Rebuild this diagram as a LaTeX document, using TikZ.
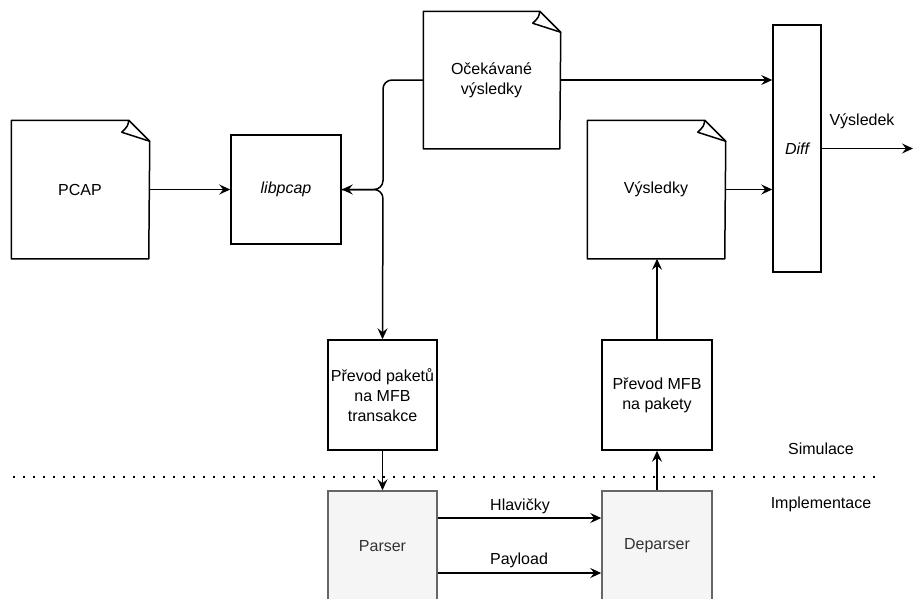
\documentclass[tikz,border=0pt]{standalone}
\usepackage{fontspec}
\setmainfont{Liberation Sans}
\usetikzlibrary{arrows.meta,calc}
\definecolor{implfill}{HTML}{F5F5F5}
\definecolor{impldraw}{HTML}{666666}
\definecolor{impltext}{HTML}{333333}
\newcommand{\notedraw}[1]{%
  \draw[line join=round] (#1.south west) -- (#1.north west) -- ($(#1.north east)+(-20,0)$) -- ($(#1.north east)+(1,21)$) -- (#1.south east) -- cycle;
  \draw[line join=round] ($(#1.north east)+(-20,0)$) .. controls ($(#1.north east)+(-21,6)$) .. ($(#1.north east)+(-27,12)$) -- ($(#1.north east)+(1,21)$);
}
\begin{document}
\begin{tikzpicture}[x=1pt,y=-1pt,
  font=\fontsize{16}{20}\selectfont, line width=1.5pt,
  box/.style={draw, inner sep=0pt, align=center, minimum width=110pt, minimum height=110pt},
  notebox/.style={inner sep=0pt, align=center, minimum width=136pt, minimum height=137pt},
  impl/.style={box, fill=implfill, draw=impldraw, text=impltext},
  arr/.style={-{Stealth[length=11pt,width=10pt,inset=4pt]}},
  lbl/.style={inner sep=0pt},
  sep/.style={line width=1.8pt, dash pattern=on 1.8pt off 8.2pt},
]
\useasboundingbox (0,0) rectangle (914,598);
\clip (0,0) rectangle (914,598);

% nodes
\node[notebox] (pcap) at (80,189.5) {PCAP};
\node[box, minimum height=109pt] (libpcap) at (286,189.5) {\itshape libpcap};
\node[notebox, minimum width=135pt, minimum height=136pt] (ocek) at (491.5,80) {Očekávané\\výsledky};
\node[notebox] (vysl) at (656,189.5) {Výsledky};
\node[draw, inner sep=0pt, minimum width=48pt, minimum height=247pt] (diff) at (797,148.5) {\itshape Diff};
\node[box, minimum width=109pt] (prevod1) at (382.5,395) {Převod paketů\\na MFB\\transakce};
\node[box] (prevod2) at (657,395) {Převod MFB\\na pakety};
\node[impl, minimum width=109pt] (parser) at (382.5,546) {Parser};
\node[impl] (deparser) at (657,546) {Deparser};
\coordinate (out) at (913,148.5);
\coordinate (sepL) at (13,477);
\coordinate (sepR) at (882,477);

\notedraw{pcap}
\notedraw{ocek}
\notedraw{vysl}

% labels
\node[lbl] (lvysledek) at (862,121) {Výsledek};
\node[lbl] (lhlav) at (520,506) {Hlavičky};
\node[lbl] (lpay) at (519,560) {Payload};
\node[lbl] (lsim) at (821,449) {Simulace};
\node[lbl] (limpl) at (821,504) {Implementace};

% separator
\draw[sep] (sepL) -- (sepR);

% connectors
\draw[arr] (pcap.east) -- (libpcap.west);
\draw[arr, rounded corners=9pt] (ocek.west) -- (383,80) -- (383,189.5) -- (libpcap.east);
\draw[arr, rounded corners=9pt] (libpcap.east) -- (383,189.5) -- (prevod1.north);
\draw[arr] (prevod1.south) -- (parser.north);
\draw[arr] (parser.east |- 0,518) -- (deparser.west |- 0,518);
\draw[arr] (parser.east |- 0,573) -- (deparser.west |- 0,573);
\draw[arr] (deparser.north) -- (prevod2.south);
\draw[arr] (prevod2.north) -- (vysl.south -| prevod2.north);
\draw[arr] (ocek.east |- 0,80) -- (diff.west |- 0,80);
\draw[arr] (vysl.east) -- (diff.west |- vysl.east);
\draw[arr] (diff.east) -- (out);
\end{tikzpicture}
\end{document}
